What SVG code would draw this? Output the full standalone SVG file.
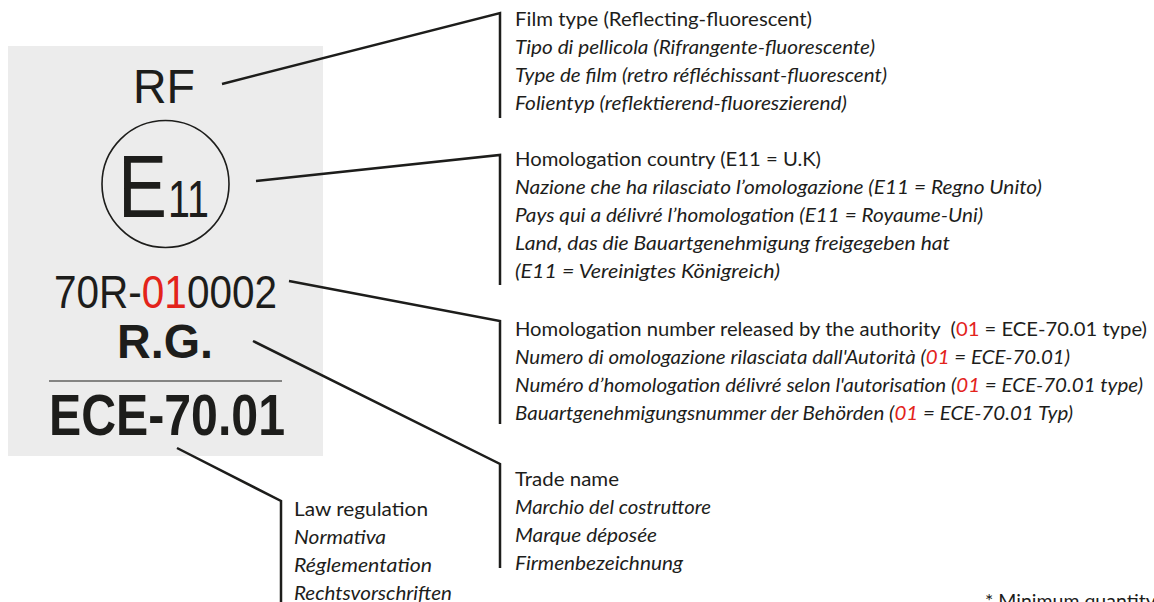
<svg xmlns="http://www.w3.org/2000/svg" width="1154" height="602" viewBox="0 0 1154 602">
<defs>
<style>
.lbl{font-family:Lato,"Open Sans","Liberation Sans",sans-serif;font-size:19.5px;fill:#1d1d1b}
.it{font-style:italic}
.big{font-family:"Liberation Sans",Arial,sans-serif;fill:#1d1d1b}
.b{font-weight:bold}
.red{fill:#e3231b}
.con{fill:none;stroke:#1d1d1b;stroke-width:2.5;stroke-linejoin:miter}
</style>
</defs>
<rect width="1154" height="602" fill="#ffffff"/>
<g id="plate">
<rect x="8" y="46" width="315" height="410" fill="#ececec"/>
<text class="big" x="133" y="103" font-size="49" textLength="62" lengthAdjust="spacingAndGlyphs">RF</text>
<circle cx="165.5" cy="184" r="63.5" fill="none" stroke="#1d1d1b" stroke-width="1.6"/>
<text class="big" font-size="89" transform="translate(118,217) scale(0.825,1)">E</text>
<text class="big" font-size="52" transform="translate(168,217) scale(0.76,1)">11</text>
<text class="big" font-size="47" transform="translate(54,308) scale(0.862,1)">70R-</text>
<text class="big red" font-size="47" transform="translate(141.8,308) scale(0.862,1)">01</text>
<text class="big" font-size="47" transform="translate(187,308) scale(0.862,1)">0002</text>
<text class="big b" x="117" y="358" font-size="49" textLength="96" lengthAdjust="spacingAndGlyphs">R.G.</text>
<line x1="49" y1="381" x2="282" y2="381" stroke="#1d1d1b" stroke-width="1.2"/>
<text class="big b" x="49" y="435" font-size="58" textLength="236" lengthAdjust="spacingAndGlyphs">ECE-70.01</text>
</g>
<g id="connectors">
<polyline class="con" points="222,84 500,13 500,118"/>
<polyline class="con" points="256,181 500,155 500,285"/>
<polyline class="con" points="289,281 500,321 500,424"/>
<polyline class="con" points="253,341 500,464 500,568"/>
<polyline class="con" points="177,448 281,501 281,602"/>
</g>
<g id="film-type">
<text class="lbl" x="515" y="26" textLength="297" lengthAdjust="spacingAndGlyphs">Film type (Reflecting-fluorescent)</text>
<text class="lbl it" x="515" y="54" textLength="360" lengthAdjust="spacingAndGlyphs">Tipo di pellicola (Rifrangente-fluorescente)</text>
<text class="lbl it" x="515" y="82" textLength="372" lengthAdjust="spacingAndGlyphs">Type de film (retro réfléchissant-fluorescent)</text>
<text class="lbl it" x="515" y="110" textLength="332" lengthAdjust="spacingAndGlyphs">Folientyp (reflektierend-fluoreszierend)</text>
</g>
<g id="homologation-country">
<text class="lbl" x="515" y="166" textLength="306" lengthAdjust="spacingAndGlyphs">Homologation country (E11 = U.K)</text>
<text class="lbl it" x="515" y="194" textLength="527" lengthAdjust="spacingAndGlyphs">Nazione che ha rilasciato l’omologazione (E11 = Regno Unito)</text>
<text class="lbl it" x="515" y="222" textLength="468" lengthAdjust="spacingAndGlyphs">Pays qui a délivré l’homologation (E11 = Royaume-Uni)</text>
<text class="lbl it" x="515" y="250" textLength="435" lengthAdjust="spacingAndGlyphs">Land, das die Bauartgenehmigung freigegeben hat</text>
<text class="lbl it" x="515" y="278" textLength="265" lengthAdjust="spacingAndGlyphs">(E11 = Vereinigtes Königreich)</text>
</g>
<g id="homologation-number">
<text class="lbl" x="515" y="336" textLength="632" lengthAdjust="spacingAndGlyphs" xml:space="preserve">Homologation number released by the authority  (<tspan class="red">01</tspan> = ECE-70.01 type)</text>
<text class="lbl it" x="515" y="364" textLength="555" lengthAdjust="spacingAndGlyphs">Numero di omologazione rilasciata dall'Autorità (<tspan class="red">01</tspan> = ECE-70.01)</text>
<text class="lbl it" x="515" y="392" textLength="628" lengthAdjust="spacingAndGlyphs">Numéro d’homologation délivré selon l'autorisation (<tspan class="red">01</tspan> = ECE-70.01 type)</text>
<text class="lbl it" x="515" y="420" textLength="558" lengthAdjust="spacingAndGlyphs">Bauartgenehmigungsnummer der Behörden (<tspan class="red">01</tspan> = ECE-70.01 Typ)</text>
</g>
<g id="trade-name">
<text class="lbl" x="515" y="486" textLength="104" lengthAdjust="spacingAndGlyphs">Trade name</text>
<text class="lbl it" x="515" y="514" textLength="196" lengthAdjust="spacingAndGlyphs">Marchio del costruttore</text>
<text class="lbl it" x="515" y="542" textLength="142" lengthAdjust="spacingAndGlyphs">Marque déposée</text>
<text class="lbl it" x="515" y="570" textLength="168" lengthAdjust="spacingAndGlyphs">Firmenbezeichnung</text>
</g>
<g id="law-regulation">
<text class="lbl" x="294" y="516" textLength="134" lengthAdjust="spacingAndGlyphs">Law regulation</text>
<text class="lbl it" x="294" y="544" textLength="92" lengthAdjust="spacingAndGlyphs">Normativa</text>
<text class="lbl it" x="294" y="572" textLength="138" lengthAdjust="spacingAndGlyphs">Réglementation</text>
<text class="lbl it" x="294" y="600" textLength="158" lengthAdjust="spacingAndGlyphs">Rechtsvorschriften</text>
</g>
<g id="footnote">
<text class="lbl" x="985" y="608">* Minimum quantity t</text>
</g>
</svg>
